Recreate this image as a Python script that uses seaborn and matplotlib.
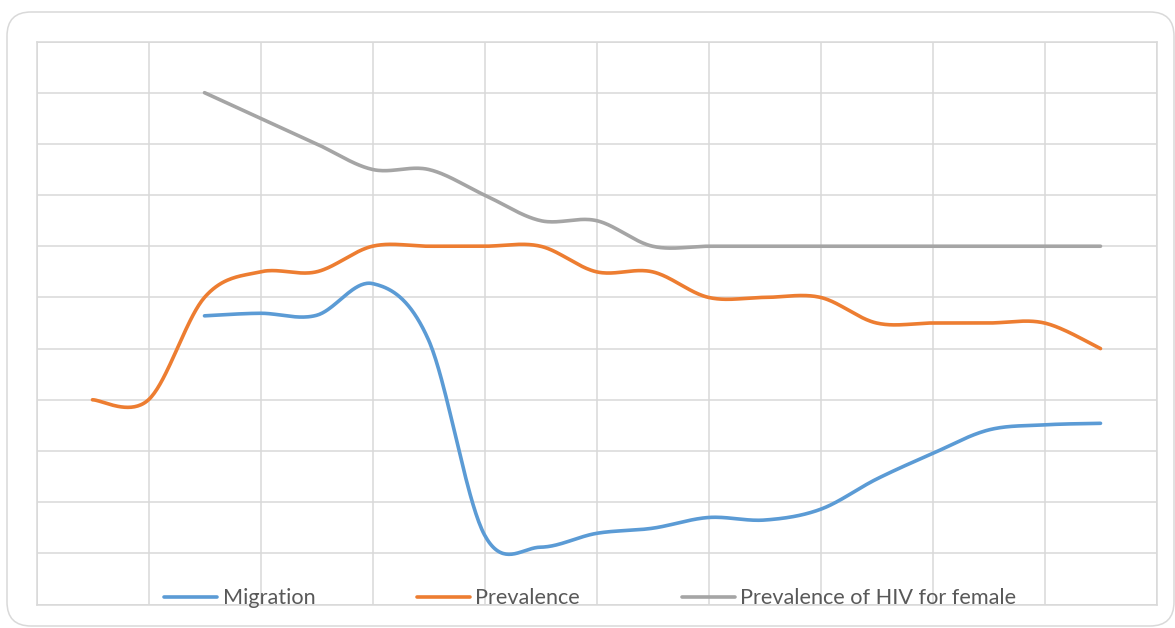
import numpy as np
import pandas as pd
import matplotlib
matplotlib.use("Agg")
import matplotlib.pyplot as plt
from matplotlib.patches import FancyBboxPatch
import seaborn as sns

# Category positions (19 periods on a 0..20 category frame)
periods = np.arange(1, 20)

# Series values (relative scale, 11 gridline bands)
migration = [np.nan, np.nan, 5.64, 5.69, 5.65, 6.27, 5.17, 1.36, 1.12, 1.39,
             1.49, 1.70, 1.65, 1.86, 2.45, 2.95, 3.41, 3.51, 3.54]
prevalence = [4.0, 4.0, 6.0, 6.5, 6.5, 7.0, 7.0, 7.0, 7.0, 6.5,
              6.5, 6.0, 6.0, 6.0, 5.5, 5.5, 5.5, 5.5, 5.0]
female_hiv = [np.nan, np.nan, 10.0, 9.5, 9.0, 8.5, 8.5, 8.0, 7.5, 7.5,
              7.0, 7.0, 7.0, 7.0, 7.0, 7.0, 7.0, 7.0, 7.0]

series_names = ["Migration", "Prevalence", "Prevalence of HIV for female"]
series_values = [migration, prevalence, female_hiv]
series_colors = ["#5B9BD5", "#ED7D31", "#A5A5A5"]


def smooth_line(x, y, steps=40):
    """Spreadsheet-style smoothed line: cubic Bezier segments through every point."""
    x = np.asarray(x, float)
    y = np.asarray(y, float)
    keep = ~np.isnan(y)
    x, y = x[keep], y[keep]
    n = len(x)
    px = np.concatenate([[x[0]], x, [x[-1]]])
    py = np.concatenate([[y[0]], y, [y[-1]]])
    t = np.linspace(0, 1, steps)
    xs, ys = [], []
    for i in range(n - 1):
        p0x, p0y = px[i + 1], py[i + 1]
        p3x, p3y = px[i + 2], py[i + 2]
        c1x = p0x + (px[i + 2] - px[i]) / 6
        c1y = p0y + (py[i + 2] - py[i]) / 6
        c2x = p3x - (px[i + 3] - px[i + 1]) / 6
        c2y = p3y - (py[i + 3] - py[i + 1]) / 6
        b0 = (1 - t) ** 3
        b1 = 3 * (1 - t) ** 2 * t
        b2 = 3 * (1 - t) * t ** 2
        b3 = t ** 3
        seg_x = b0 * p0x + b1 * c1x + b2 * c2x + b3 * p3x
        seg_y = b0 * p0y + b1 * c1y + b2 * c2y + b3 * p3y
        if i > 0:
            seg_x, seg_y = seg_x[1:], seg_y[1:]
        xs.append(seg_x)
        ys.append(seg_y)
    return np.concatenate(xs), np.concatenate(ys)


sns.set_theme(style="whitegrid")
plt.rcParams["font.family"] = ["Lato", "DejaVu Sans"]

W, H = 1175, 628
fig = plt.figure(figsize=(W / 100, H / 100), dpi=100)
fig.patch.set_facecolor("white")

# Rounded chart-area border
border = FancyBboxPatch((7, 2), 1167, 614, boxstyle="round,pad=0,rounding_size=24",
                        transform=None, facecolor="none", edgecolor="#D9D9D9",
                        linewidth=1.1, zorder=0)
fig.patches.append(border)

left, right, top, bottom = 36.5, 1156.5, 41.5, 604.5
ax = fig.add_axes([left / W, (H - bottom) / H, (right - left) / W, (bottom - top) / H])
ax.set_facecolor("none")

for name, vals, col in zip(series_names, series_values, series_colors):
    sx, sy = smooth_line(periods, vals)
    frame = pd.DataFrame({"period": sx, "value": sy})
    sns.lineplot(data=frame, x="period", y="value", sort=False, color=col,
                 linewidth=2.6, label=name, ax=ax, solid_capstyle="round")

ax.set_xlim(0, 20)
ax.set_ylim(0, 11)
ax.set_xticks(np.arange(0, 21, 2))
ax.set_yticks(np.arange(0, 12, 1))
ax.set_xticklabels([])
ax.set_yticklabels([])
ax.tick_params(length=0)
ax.set_xlabel("")
ax.set_ylabel("")
ax.grid(True, color="#D9D9D9", linewidth=1.1)
for sp in ax.spines.values():
    sp.set_visible(True)
    sp.set_color("#D9D9D9")
    sp.set_linewidth(1.1)

leg = ax.legend(loc="center", bbox_to_anchor=(0.4944, 0.011), ncol=3, frameon=False,
                fontsize=15.6, handlelength=2.45, handletextpad=0.24, columnspacing=4.7,
                borderaxespad=0)
for txt in leg.get_texts():
    txt.set_color("#595959")
for line in leg.get_lines():
    line.set_linewidth(2.6)

fig.savefig("out.png", dpi=100, facecolor="white")
